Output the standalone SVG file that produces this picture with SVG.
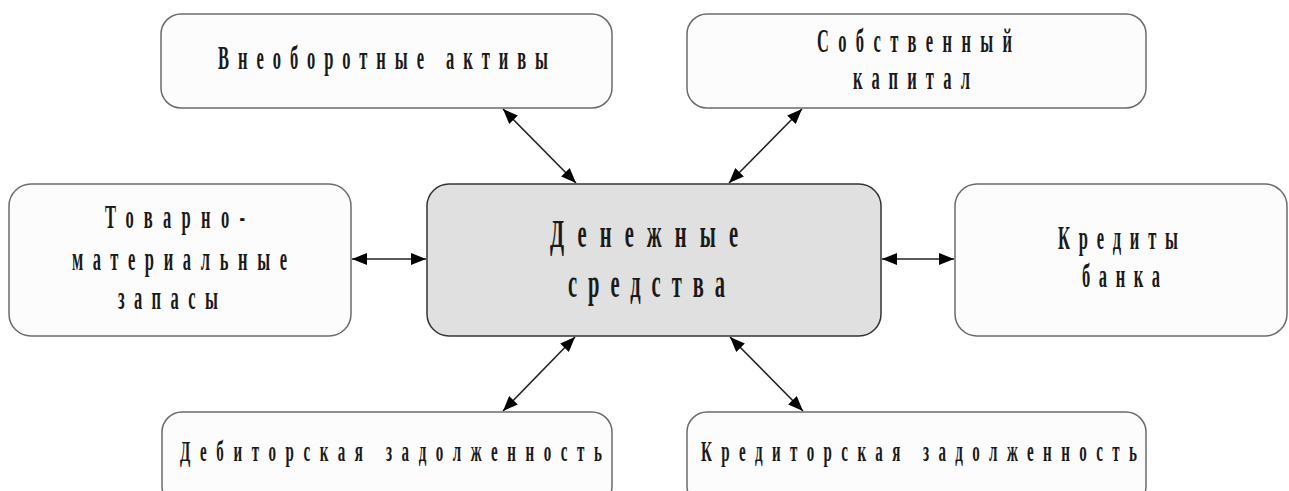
<svg xmlns="http://www.w3.org/2000/svg" width="1289" height="491" viewBox="0 0 1289 491">
<style>
.box{fill:#fcfcfc;stroke:#6b6b6b;stroke-width:1.5}
.main{fill:#e0e0e0;stroke:#333;stroke-width:1.5}
.t{font-family:"Liberation Serif","Times New Roman",serif;font-size:33px;font-weight:bold;fill:#1a1a1a}
.tb{font-size:41px}
.ts{font-size:30px}
.c{stroke:#222;stroke-width:1.6;fill:none;marker-start:url(#ah);marker-end:url(#ah)}
</style>
<defs>
<marker id="ah" viewBox="0 0 15 12" refX="15" refY="6" markerWidth="15" markerHeight="12" markerUnits="userSpaceOnUse" orient="auto-start-reverse">
<path d="M0,0 L15,6 L0,12 z" fill="#000"/>
</marker>
</defs>
<rect width="1289" height="491" fill="#fff"/>
<g id="connectors">
<line class="c" x1="503" y1="109" x2="576" y2="183"/>
<line class="c" x1="802" y1="109" x2="729" y2="183"/>
<line class="c" x1="352" y1="259" x2="426" y2="259"/>
<line class="c" x1="882" y1="259" x2="954" y2="259"/>
<line class="c" x1="575" y1="337" x2="503" y2="411"/>
<line class="c" x1="730" y1="337" x2="803" y2="411"/>
</g>
<g id="node-vneoborotnye">
<rect class="box" x="161" y="14" width="451" height="94" rx="20"/>
<text class="t" transform="scale(0.5,1)" x="436" y="69" textLength="660" lengthAdjust="spacing">Внеоборотные активы</text>
</g>
<g id="node-sobstvenny">
<rect class="box" x="687" y="14" width="459" height="94" rx="20"/>
<text class="t" transform="scale(0.5,1)" x="1634" y="52" textLength="390" lengthAdjust="spacing">Собственный</text>
<text class="t" transform="scale(0.5,1)" x="1706" y="89" textLength="234" lengthAdjust="spacing">капитал</text>
</g>
<g id="node-tmz">
<rect class="box" x="9" y="184" width="342" height="152" rx="22"/>
<text class="t" transform="scale(0.5,1)" x="210" y="228" textLength="280" lengthAdjust="spacing">Товарно-</text>
<text class="t" transform="scale(0.5,1)" x="144" y="270" textLength="430" lengthAdjust="spacing">материальные</text>
<text class="t" transform="scale(0.5,1)" x="236" y="309" textLength="200" lengthAdjust="spacing">запасы</text>
</g>
<g id="node-denezhnye">
<rect class="main" x="427" y="184" width="454" height="152" rx="22"/>
<text class="t tb" transform="scale(0.5,1)" x="1100" y="247" textLength="376" lengthAdjust="spacing">Денежные</text>
<text class="t tb" transform="scale(0.5,1)" x="1136" y="297" textLength="314" lengthAdjust="spacing">средства</text>
</g>
<g id="node-kredity">
<rect class="box" x="955" y="184" width="332" height="152" rx="22"/>
<text class="t" transform="scale(0.5,1)" x="2116" y="249" textLength="240" lengthAdjust="spacing">Кредиты</text>
<text class="t" transform="scale(0.5,1)" x="2164" y="287" textLength="156" lengthAdjust="spacing">банка</text>
</g>
<g id="node-debitorskaya">
<rect class="box" x="162" y="412" width="450" height="94" rx="20"/>
<text class="t ts" transform="scale(0.5,1)" x="360" y="461" textLength="844" lengthAdjust="spacing">Дебиторская задолженность</text>
</g>
<g id="node-kreditorskaya">
<rect class="box" x="687" y="412" width="459" height="94" rx="20"/>
<text class="t ts" transform="scale(0.5,1)" x="1402" y="461" textLength="872" lengthAdjust="spacing">Кредиторская задолженность</text>
</g>
</svg>
